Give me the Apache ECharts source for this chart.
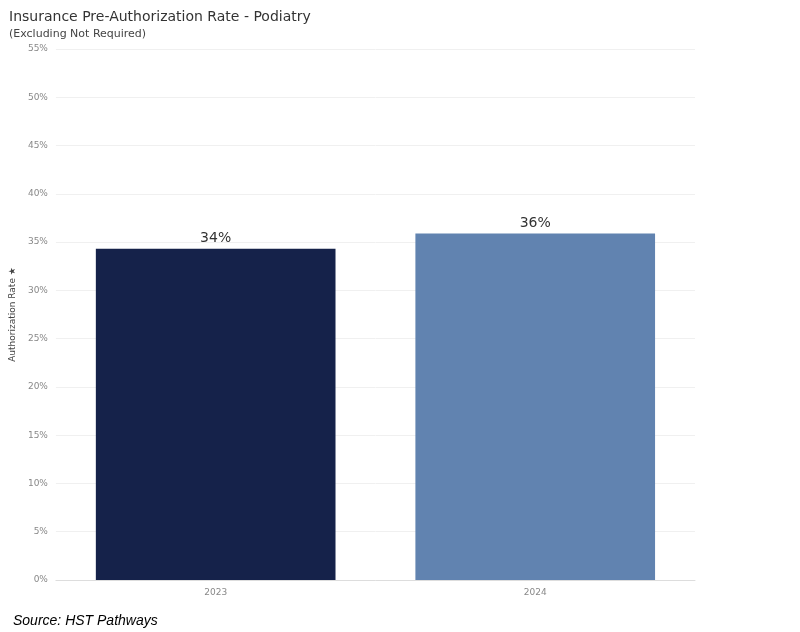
<!DOCTYPE html><html><head><meta charset="utf-8"><script src="https://cdn.jsdelivr.net/npm/echarts@6/dist/echarts.min.js"></script>
<style>body{margin:0;background:#fff}#c{width:800px;height:632px}</style></head><body><div id="c"></div><script>
const categories=['2023','2024'];
const rates=[34.3,35.9];
const labels=['34%','36%'];
const colors=['#15224a','#6183b0'];
const ch=echarts.init(document.getElementById('c'));
ch.setOption({
 animation:false,
 title:[{text:'Insurance Pre-Authorization Rate - Podiatry',left:4,top:5,textStyle:{fontFamily:'DejaVu Sans',fontSize:14,fontWeight:'normal',color:'#333'}},
  {text:'(Excluding Not Required)',left:4,top:24,textStyle:{fontFamily:'DejaVu Sans',fontSize:11,fontWeight:'normal',color:'#444'}},
  {text:'Source: HST Pathways',left:8,top:609,textStyle:{fontFamily:'Liberation Sans',fontSize:14,fontStyle:'italic',fontWeight:'normal',color:'#000'}}],
 grid:{left:50,right:105,top:49,bottom:52},
 xAxis:{type:'category',data:categories,axisLine:{lineStyle:{color:'#ddd'}},axisTick:{show:false},axisLabel:{color:'#888',fontSize:9,fontFamily:'DejaVu Sans'}},
 yAxis:{type:'value',min:0,max:55,interval:5,name:'Authorization Rate ★',nameLocation:'middle',nameGap:34,nameTextStyle:{color:'#444',fontSize:9,fontFamily:'DejaVu Sans'},
  axisLabel:{formatter:'{value}%',color:'#888',fontSize:9,fontFamily:'DejaVu Sans'},splitLine:{lineStyle:{color:'#f0f0f0'}}},
 series:[{type:'bar',barWidth:'75%',data:rates.map((v,i)=>({value:v,itemStyle:{color:colors[i]},label:{formatter:labels[i]}})),
  label:{show:true,position:'top',fontSize:14,color:'#333',fontFamily:'DejaVu Sans',distance:3}}]
});
</script></body></html>
